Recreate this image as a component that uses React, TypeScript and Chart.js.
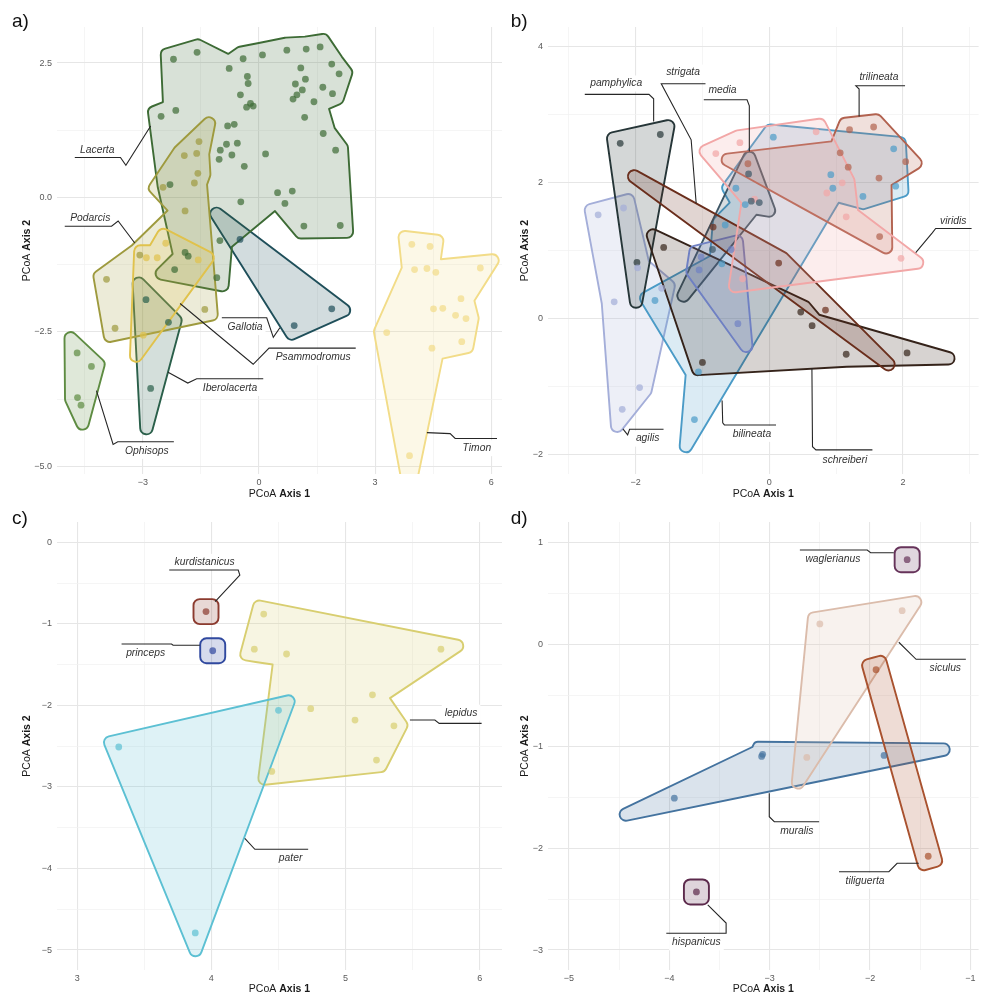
import { useEffect, useRef } from 'react';
import { Chart, registerables } from 'chart.js';

Chart.register(...registerables);

type Pt = [number, number];

const FONT = "'Liberation Sans', Arial, Helvetica, sans-serif";

// ---------- a) genera ----------
const A_X_TICKS = [-3, 0, 3, 6];
const A_X_MINOR = [-4.5, -1.5, 1.5, 4.5];
const A_Y_TICKS = [-5, -2.5, 0, 2.5];
const A_Y_MINOR = [-3.75, -1.25, 1.25];

const A_GALLOTIA_X = [-0.49, 0.91, 1.88];
const A_GALLOTIA_Y = [-0.78, -2.38, -2.07];
const A_IBEROLACERTA_X = [-2.92, -2.34, -2.8];
const A_IBEROLACERTA_Y = [-1.9, -2.32, -3.55];
const A_LACERTA_X = [
  -2.21, -1.6, -0.77, -0.41, 0.09, 0.72, 1.22, 1.58, 1.88, 2.07, 1.08, 1.2, 0.94, 1.12, 0.98, 0.88,
  1.65, 1.9, 1.42, 1.18, -0.3, -0.28, -0.48, -0.32, -0.22, -0.15, -2.53, -2.15, -0.81, -0.64, -0.84,
  -0.56, -1.0, -0.7, -1.03, -0.38, 0.17, 1.66, 1.98, 0.48, 0.86, 0.67, -0.47, 1.16, 2.1, -2.3,
  -1.91, -1.83, -2.18, -1.09, -1.01,
];
const A_LACERTA_Y = [
  2.57, 2.7, 2.4, 2.58, 2.65, 2.74, 2.76, 2.8, 2.48, 2.3, 2.41, 2.2, 2.11, 2.0, 1.91, 1.83, 2.05,
  1.93, 1.78, 1.49, 2.25, 2.12, 1.91, 1.68, 1.75, 1.7, 1.51, 1.62, 1.33, 1.36, 0.99, 1.01, 0.88,
  0.79, 0.71, 0.58, 0.81, 1.19, 0.88, 0.09, 0.12, -0.11, -0.08, -0.53, -0.52, 0.24, -1.02,
  -1.09, -1.34, -1.49, -0.8,
];
const A_OPHISOPS_X = [-4.7, -4.33, -4.69, -4.6];
const A_OPHISOPS_Y = [-2.89, -3.14, -3.72, -3.86];
const A_PODARCIS_X = [-1.55, -1.61, -1.93, -1.58, -1.67, -2.48, -1.91, -3.08, -3.94, -3.72, -1.4];
const A_PODARCIS_Y = [1.04, 0.82, 0.78, 0.45, 0.27, 0.19, -0.25, -1.07, -1.52, -2.43, -2.08];
const A_PSAMMODROMUS_X = [-2.91, -2.63, -2.41, -1.57, -2.99];
const A_PSAMMODROMUS_Y = [-1.12, -1.12, -0.85, -1.16, -2.56];
const A_TIMON_X = [3.95, 4.42, 4.02, 4.34, 4.57, 5.72, 5.22, 4.51, 4.75, 5.08, 5.35, 3.3, 5.24, 4.47, 3.89];
const A_TIMON_Y = [-0.87, -0.91, -1.34, -1.32, -1.39, -1.31, -1.88, -2.07, -2.06, -2.19, -2.25, -2.51, -2.68, -2.8, -4.8];

// ---------- b) Lacerta ----------
const B_X_TICKS = [-2, 0, 2];
const B_X_MINOR = [-3, -1, 1, 3];
const B_Y_TICKS = [-2, 0, 2, 4];
const B_Y_MINOR = [-1, 1, 3];

const B_AGILIS_X = [-2.56, -2.18, -1.97, -2.32, -1.61, -1.94, -2.2];
const B_AGILIS_Y = [1.53, 1.63, 0.75, 0.25, 0.45, -1.01, -1.33];
const B_BILINEATA_X = [0.06, 1.86, 0.92, 0.95, 1.4, 1.89, -0.5, -0.36, -0.66, -0.71, -1.71, -1.06, -1.12];
const B_BILINEATA_Y = [2.67, 2.5, 2.12, 1.92, 1.8, 1.95, 1.92, 1.68, 1.38, 0.81, 0.27, -0.78, -1.48];
const B_MEDIA_X = [-0.31, -0.27, -0.15, -0.85];
const B_MEDIA_Y = [2.13, 1.73, 1.71, 1.02];
const B_PAMPHYLICA_X = [-2.23, -1.63, -1.98];
const B_PAMPHYLICA_Y = [2.58, 2.71, 0.83];
const B_SCHREIBERI_X = [-1.58, -1.0, 0.47, 0.64, 1.15, 2.06];
const B_SCHREIBERI_Y = [1.05, -0.64, 0.1, -0.1, -0.52, -0.5];
const B_SP_X = [-1.02, -0.57, -1.05, -0.47];
const B_SP_Y = [0.91, 1.02, 0.72, -0.07];
const B_STRIGATA_X = [-0.84, 0.14, 0.84];
const B_STRIGATA_Y = [1.35, 0.82, 0.13];
const B_TRILINEATA_X = [-0.32, 1.2, 1.56, 1.06, 1.18, 2.04, 1.64, 1.65];
const B_TRILINEATA_Y = [2.28, 2.78, 2.82, 2.44, 2.23, 2.31, 2.07, 1.21];
const B_VIRIDIS_X = [-0.8, -0.44, 0.7, 1.09, 0.86, 1.15, 1.97, -0.4, -0.22];
const B_VIRIDIS_Y = [2.43, 2.59, 2.75, 2.0, 1.85, 1.5, 0.89, 0.59, 1.76];

// ---------- c) Timon ----------
const C_X_TICKS = [3, 4, 5, 6];
const C_X_MINOR = [3.5, 4.5, 5.5];
const C_Y_TICKS = [-5, -4, -3, -2, -1, 0];
const C_Y_MINOR = [-4.5, -3.5, -2.5, -1.5, -0.5];

const C_KURDISTANICUS_X = [3.96];
const C_KURDISTANICUS_Y = [-0.85];
const C_LEPIDUS_X = [4.39, 4.32, 4.56, 5.71, 4.74, 5.2, 5.07, 5.36, 5.23, 4.45];
const C_LEPIDUS_Y = [-0.88, -1.31, -1.37, -1.31, -2.04, -1.87, -2.18, -2.25, -2.67, -2.81];
const C_PATER_X = [4.5, 3.31, 3.88];
const C_PATER_Y = [-2.06, -2.51, -4.79];
const C_PRINCEPS_X = [4.01];
const C_PRINCEPS_Y = [-1.33];

// ---------- d) Podarcis ----------
const D_X_TICKS = [-5, -4, -3, -2, -1];
const D_X_MINOR = [-4.5, -3.5, -2.5, -1.5];
const D_Y_TICKS = [-3, -2, -1, 0, 1];
const D_Y_MINOR = [-2.5, -1.5, -0.5, 0.5];

const D_HISPANICUS_X = [-3.73];
const D_HISPANICUS_Y = [-2.43];
const D_MURALIS_X = [-3.95, -3.07, -3.08, -1.86];
const D_MURALIS_Y = [-1.51, -1.08, -1.1, -1.09];
const D_SICULUS_X = [-2.5, -1.68, -2.63];
const D_SICULUS_Y = [0.2, 0.33, -1.11];
const D_TILIGUERTA_X = [-1.94, -1.42];
const D_TILIGUERTA_Y = [-0.25, -2.08];
const D_WAGLERIANUS_X = [-1.63];
const D_WAGLERIANUS_Y = [0.83];

interface Group { name: string; x: number[]; y: number[]; color: string }
interface Label { text: string; at: Pt; path: Pt[] }
interface PanelSpec {
  tag: string;
  left: number; top: number; w: number; h: number;
  plot: { l: number; t: number; r: number; b: number };
  xRange: Pt; yRange: Pt;
  xTicks: number[]; xMinor: number[]; yTicks: number[]; yMinor: number[];
  yDigits: number;
  groups: Group[];
  labels: Label[];
  xTitleY: number; yTitleX: number; tagX: number; tagY: number;
}

const PANELS: PanelSpec[] = [
  {
    tag: 'a)', left: 0, top: 0, w: 506, h: 500,
    plot: { l: 57, t: 27, r: 502, b: 474 },
    xRange: [-5.22, 6.28], yRange: [-5.14, 3.17],
    xTicks: A_X_TICKS, xMinor: A_X_MINOR, yTicks: A_Y_TICKS, yMinor: A_Y_MINOR, yDigits: 1,
    groups: [
      { name: 'Gallotia', x: A_GALLOTIA_X, y: A_GALLOTIA_Y, color: '#1f4f5a' },
      { name: 'Iberolacerta', x: A_IBEROLACERTA_X, y: A_IBEROLACERTA_Y, color: '#2a5f4a' },
      { name: 'Lacerta', x: A_LACERTA_X, y: A_LACERTA_Y, color: '#3d6b35' },
      { name: 'Ophisops', x: A_OPHISOPS_X, y: A_OPHISOPS_Y, color: '#5e8c42' },
      { name: 'Podarcis', x: A_PODARCIS_X, y: A_PODARCIS_Y, color: '#9e9a3e' },
      { name: 'Psammodromus', x: A_PSAMMODROMUS_X, y: A_PSAMMODROMUS_Y, color: '#e0c24c' },
      { name: 'Timon', x: A_TIMON_X, y: A_TIMON_Y, color: '#f2dc88' },
    ],
    labels: [
      { text: 'Lacerta', at: [-4.18, 0.88], path: [[-4.76, 0.745], [-3.58, 0.745], [-3.44, 0.6], [-2.8, 1.33]] },
      { text: 'Podarcis', at: [-4.36, -0.38], path: [[-5.02, -0.534], [-3.81, -0.534], [-3.64, -0.436], [-3.21, -0.845]] },
      { text: 'Gallotia', at: [-0.36, -2.41], path: [[-0.96, -2.235], [0.2, -2.235], [0.37, -2.6], [0.54, -2.42]] },
      { text: 'Psammodromus', at: [1.4, -2.97], path: [[2.5, -2.8], [0.26, -2.8], [-0.15, -3.1], [-2.04, -1.97]] },
      { text: 'Iberolacerta', at: [-0.75, -3.54], path: [[0.11, -3.37], [-1.61, -3.37], [-1.84, -3.45], [-2.35, -3.25]] },
      { text: 'Ophisops', at: [-2.9, -4.71], path: [[-2.2, -4.54], [-3.65, -4.54], [-3.77, -4.59], [-4.2, -3.59]] },
      { text: 'Timon', at: [5.63, -4.66], path: [[6.15, -4.48], [5.07, -4.48], [4.94, -4.39], [4.34, -4.37]] },
    ],
    xTitleY: 494, yTitleX: 27, tagX: 12, tagY: 26.5,
  },
  {
    tag: 'b)', left: 490, top: 0, w: 492, h: 500,
    plot: { l: 58, t: 27, r: 490, b: 474 },
    xRange: [-3.31, 3.13], yRange: [-2.28, 4.29],
    xTicks: B_X_TICKS, xMinor: B_X_MINOR, yTicks: B_Y_TICKS, yMinor: B_Y_MINOR, yDigits: 0,
    groups: [
      { name: 'agilis', x: B_AGILIS_X, y: B_AGILIS_Y, color: '#a4aed9' },
      { name: 'bilineata', x: B_BILINEATA_X, y: B_BILINEATA_Y, color: '#4b9bc7' },
      { name: 'media', x: B_MEDIA_X, y: B_MEDIA_Y, color: '#3c5565' },
      { name: 'pamphylica', x: B_PAMPHYLICA_X, y: B_PAMPHYLICA_Y, color: '#263638' },
      { name: 'schreiberi', x: B_SCHREIBERI_X, y: B_SCHREIBERI_Y, color: '#35231a' },
      { name: 'sp.', x: B_SP_X, y: B_SP_Y, color: '#6f80c3' },
      { name: 'strigata', x: B_STRIGATA_X, y: B_STRIGATA_Y, color: '#6a2e1c' },
      { name: 'trilineata', x: B_TRILINEATA_X, y: B_TRILINEATA_Y, color: '#b2624f' },
      { name: 'viridis', x: B_VIRIDIS_X, y: B_VIRIDIS_Y, color: '#f2a7a7' },
    ],
    labels: [
      { text: 'pamphylica', at: [-2.29, 3.46], path: [[-2.76, 3.3], [-1.8, 3.3], [-1.73, 3.235], [-1.73, 2.9]] },
      { text: 'strigata', at: [-1.29, 3.62], path: [[-0.945, 3.456], [-1.616, 3.456], [-1.169, 2.632], [-1.094, 1.7]] },
      { text: 'media', at: [-0.7, 3.36], path: [[-0.98, 3.221], [-0.333, 3.221], [-0.299, 3.132], [-0.299, 2.46]] },
      { text: 'trilineata', at: [1.64, 3.55], path: [[2.03, 3.426], [1.294, 3.426], [1.343, 3.378], [1.343, 2.975]] },
      { text: 'viridis', at: [2.75, 1.44], path: [[3.025, 1.328], [2.488, 1.328], [2.437, 1.265], [2.19, 0.975]] },
      { text: 'agilis', at: [-1.82, -1.76], path: [[-1.582, -1.622], [-2.09, -1.622], [-2.119, -1.706], [-2.19, -1.618]] },
      { text: 'bilineata', at: [-0.26, -1.69], path: [[0.1, -1.559], [-0.672, -1.559], [-0.697, -1.529], [-0.706, -1.201]] },
      { text: 'schreiberi', at: [1.13, -2.07], path: [[1.542, -1.926], [0.697, -1.926], [0.646, -1.878], [0.637, -0.725]] },
    ],
    xTitleY: 494, yTitleX: 35, tagX: 20.7, tagY: 26.5,
  },
  {
    tag: 'c)', left: 0, top: 500, w: 506, h: 497,
    plot: { l: 57, t: 22, r: 502, b: 470 },
    xRange: [2.85, 6.165], yRange: [-5.245, 0.249],
    xTicks: C_X_TICKS, xMinor: C_X_MINOR, yTicks: C_Y_TICKS, yMinor: C_Y_MINOR, yDigits: 0,
    groups: [
      { name: 'kurdistanicus', x: C_KURDISTANICUS_X, y: C_KURDISTANICUS_Y, color: '#8c3b2f' },
      { name: 'lepidus', x: C_LEPIDUS_X, y: C_LEPIDUS_Y, color: '#d8ce70' },
      { name: 'pater', x: C_PATER_X, y: C_PATER_Y, color: '#5cc0d3' },
      { name: 'princeps', x: C_PRINCEPS_X, y: C_PRINCEPS_Y, color: '#30499f' },
    ],
    labels: [
      { text: 'kurdistanicus', at: [3.95, -0.24], path: [[3.686, -0.34], [4.2, -0.34], [4.212, -0.401], [4.028, -0.728]] },
      { text: 'princeps', at: [3.51, -1.36], path: [[3.331, -1.247], [3.703, -1.247], [3.715, -1.263], [3.914, -1.263]] },
      { text: 'lepidus', at: [5.86, -2.09], path: [[6.013, -2.22], [5.697, -2.22], [5.665, -2.179], [5.479, -2.179]] },
      { text: 'pater', at: [4.59, -3.875], path: [[4.721, -3.765], [4.324, -3.765], [4.249, -3.63]] },
    ],
    xTitleY: 489, yTitleX: 27, tagX: 12, tagY: 24,
  },
  {
    tag: 'd)', left: 490, top: 500, w: 492, h: 497,
    plot: { l: 58, t: 22, r: 490, b: 470 },
    xRange: [-5.209, -0.918], yRange: [-3.196, 1.2],
    xTicks: D_X_TICKS, xMinor: D_X_MINOR, yTicks: D_Y_TICKS, yMinor: D_Y_MINOR, yDigits: 0,
    groups: [
      { name: 'hispanicus', x: D_HISPANICUS_X, y: D_HISPANICUS_Y, color: '#5c2a4c' },
      { name: 'muralis', x: D_MURALIS_X, y: D_MURALIS_Y, color: '#44739f' },
      { name: 'siculus', x: D_SICULUS_X, y: D_SICULUS_Y, color: '#dbbcab' },
      { name: 'tiliguerta', x: D_TILIGUERTA_X, y: D_TILIGUERTA_Y, color: '#a9522f' },
      { name: 'waglerianus', x: D_WAGLERIANUS_X, y: D_WAGLERIANUS_Y, color: '#66335a' },
    ],
    labels: [
      { text: 'waglerianus', at: [-2.37, 0.834], path: [[-2.699, 0.925], [-2.028, 0.925], [-1.994, 0.899], [-1.763, 0.899]] },
      { text: 'siculus', at: [-1.25, -0.236], path: [[-1.045, -0.147], [-1.541, -0.147], [-1.713, 0.02]] },
      { text: 'muralis', at: [-2.73, -1.83], path: [[-2.507, -1.741], [-2.954, -1.741], [-3.004, -1.692], [-3.004, -1.462]] },
      { text: 'tiliguerta', at: [-2.05, -2.32], path: [[-2.309, -2.232], [-1.812, -2.232], [-1.73, -2.149], [-1.514, -2.149]] },
      { text: 'hispanicus', at: [-3.73, -2.925], path: [[-4.03, -2.836], [-3.434, -2.836], [-3.434, -2.735], [-3.617, -2.558]] },
    ],
    xTitleY: 489, yTitleX: 35, tagX: 20.7, tagY: 24,
  },
];

// hull expansion and corner radius, in pixels
const EXPAND = 12.5;
const RADIUS = 6.25;

function rgba(hex: string, a: number) {
  const n = parseInt(hex.slice(1), 16);
  return `rgba(${(n >> 16) & 255},${(n >> 8) & 255},${n & 255},${a})`;
}

// ---------- concave hull (concaveman-style digging of a convex hull) ----------
function cross3(o: Pt, a: Pt, b: Pt) {
  return (a[0] - o[0]) * (b[1] - o[1]) - (a[1] - o[1]) * (b[0] - o[0]);
}
function convexHullIdx(pts: Pt[]): number[] {
  const idx = pts.map((_, i) => i).sort((i, j) => pts[i][0] - pts[j][0] || pts[i][1] - pts[j][1]);
  const lower: number[] = [];
  for (const i of idx) {
    while (lower.length >= 2 && cross3(pts[lower[lower.length - 2]], pts[lower[lower.length - 1]], pts[i]) <= 0) lower.pop();
    lower.push(i);
  }
  const upper: number[] = [];
  for (let k = idx.length - 1; k >= 0; k--) {
    const i = idx[k];
    while (upper.length >= 2 && cross3(pts[upper[upper.length - 2]], pts[upper[upper.length - 1]], pts[i]) <= 0) upper.pop();
    upper.push(i);
  }
  lower.pop();
  upper.pop();
  return lower.concat(upper);
}
function sqDist(a: Pt, b: Pt) {
  const dx = a[0] - b[0], dy = a[1] - b[1];
  return dx * dx + dy * dy;
}
function sqSegDist(p: Pt, a: Pt, b: Pt) {
  let x = a[0], y = a[1];
  let dx = b[0] - x, dy = b[1] - y;
  if (dx !== 0 || dy !== 0) {
    const t = ((p[0] - x) * dx + (p[1] - y) * dy) / (dx * dx + dy * dy);
    if (t > 1) { x = b[0]; y = b[1]; } else if (t > 0) { x += dx * t; y += dy * t; }
  }
  dx = p[0] - x; dy = p[1] - y;
  return dx * dx + dy * dy;
}
function orient(p: Pt, q: Pt, r: Pt) {
  return (q[1] - p[1]) * (r[0] - q[0]) - (q[0] - p[0]) * (r[1] - q[1]);
}
function concaveHullIdx(pts: Pt[], concavity = 2): number[] {
  const hull = convexHullIdx(pts);
  if (pts.length < 4 || hull.length < 3) return hull;
  const next = new Map<number, number>();
  const prev = new Map<number, number>();
  hull.forEach((h, k) => {
    next.set(h, hull[(k + 1) % hull.length]);
    prev.set(h, hull[(k - 1 + hull.length) % hull.length]);
  });
  const used = new Set(hull);
  const crosses = (p1: number, q1: number, p2: number, q2: number) =>
    p1 !== q2 && q1 !== p2 &&
    (orient(pts[p1], pts[q1], pts[p2]) > 0) !== (orient(pts[p1], pts[q1], pts[q2]) > 0) &&
    (orient(pts[p2], pts[q2], pts[p1]) > 0) !== (orient(pts[p2], pts[q2], pts[q1]) > 0);
  const clear = (a: number, b: number) => {
    for (const [s, t] of next) if (crosses(s, t, a, b)) return false;
    return true;
  };
  const queue = hull.slice();
  const sqC = concavity * concavity;
  let guard = 0;
  while (queue.length && guard++ < 20000) {
    const a = queue.shift()!;
    const b = next.get(a)!;
    const maxSq = sqDist(pts[a], pts[b]) / sqC;
    const pa = prev.get(a)!, nb = next.get(b)!;
    const cands: [number, number][] = [];
    pts.forEach((p, i) => {
      if (used.has(i)) return;
      const d = sqSegDist(p, pts[a], pts[b]);
      if (d <= maxSq) cands.push([d, i]);
    });
    cands.sort((u, v) => u[0] - v[0]);
    let pick = -1;
    for (const [d, i] of cands) {
      if (d < sqSegDist(pts[i], pts[pa], pts[a]) && d < sqSegDist(pts[i], pts[b], pts[nb]) && clear(a, i) && clear(b, i)) {
        pick = i;
        break;
      }
    }
    if (pick >= 0 && Math.min(sqDist(pts[pick], pts[a]), sqDist(pts[pick], pts[b])) <= maxSq) {
      next.set(a, pick); prev.set(pick, a);
      next.set(pick, b); prev.set(b, pick);
      used.add(pick);
      queue.push(a, pick);
    }
  }
  const out = [hull[0]];
  let c = next.get(hull[0])!;
  while (c !== hull[0] && out.length <= pts.length) { out.push(c); c = next.get(c)!; }
  return out;
}

// ---------- mitred outward offset with collapsed edges removed ----------
interface Outline { V: Pt[]; convex: boolean[] }
function offsetPolygon(poly: Pt[], E: number): Outline {
  const P = poly.slice();
  let A = 0;
  for (let i = 0; i < P.length; i++) {
    const a = P[i], b = P[(i + 1) % P.length];
    A += a[0] * b[1] - b[0] * a[1];
  }
  if (A < 0) P.reverse();
  type Line = { o: Pt; d: Pt };
  let lines: Line[] = [];
  for (let i = 0; i < P.length; i++) {
    const a = P[i], b = P[(i + 1) % P.length];
    const dx = b[0] - a[0], dy = b[1] - a[1];
    const L = Math.hypot(dx, dy);
    if (L < 1e-9) continue;
    const d: Pt = [dx / L, dy / L];
    lines.push({ o: [a[0] + d[1] * E, a[1] - d[0] * E], d });
  }
  const meet = (l1: Line, l2: Line): Pt => {
    const c = l1.d[0] * l2.d[1] - l1.d[1] * l2.d[0];
    if (Math.abs(c) < 1e-9) return l2.o;
    const wx = l2.o[0] - l1.o[0], wy = l2.o[1] - l1.o[1];
    const s = (wx * l2.d[1] - wy * l2.d[0]) / c;
    return [l1.o[0] + s * l1.d[0], l1.o[1] + s * l1.d[1]];
  };
  for (let guard = 0; guard < 200 && lines.length > 3; guard++) {
    const m = lines.length;
    const V = lines.map((l, i) => meet(lines[(i - 1 + m) % m], l));
    let bad = -1;
    for (let i = 0; i < m; i++) {
      const a = V[i], b = V[(i + 1) % m];
      if ((b[0] - a[0]) * lines[i].d[0] + (b[1] - a[1]) * lines[i].d[1] < 0) { bad = i; break; }
    }
    if (bad < 0) break;
    lines = lines.filter((_, i) => i !== bad);
  }
  const m = lines.length;
  const V = lines.map((l, i) => meet(lines[(i - 1 + m) % m], l));
  const convex = lines.map((l, i) => {
    const p = lines[(i - 1 + m) % m].d;
    return p[0] * l.d[1] - p[1] * l.d[0] > 0;
  });
  return { V, convex };
}

function markOutline(px: Pt[], area: { left: number; top: number; width: number; height: number }): Outline {
  if (px.length === 1) {
    const [x, y] = px[0];
    const E = EXPAND;
    return { V: [[x - E, y - E], [x + E, y - E], [x + E, y + E], [x - E, y + E]], convex: [true, true, true, true] };
  }
  if (px.length === 2) {
    const [a, b] = px;
    const L = Math.hypot(b[0] - a[0], b[1] - a[1]) || 1;
    const u: Pt = [(b[0] - a[0]) / L, (b[1] - a[1]) / L];
    const v: Pt = [-u[1], u[0]];
    const E = EXPAND;
    const c = (p: Pt, su: number, sv: number): Pt => [p[0] + E * (su * u[0] + sv * v[0]), p[1] + E * (su * u[1] + sv * v[1])];
    return { V: [c(a, -1, -1), c(b, 1, -1), c(b, 1, 1), c(a, -1, 1)], convex: [true, true, true, true] };
  }
  const npc: Pt[] = px.map(([x, y]) => [(x - area.left) / area.width, (y - area.top) / area.height]);
  const idx = concaveHullIdx(npc, 2);
  return offsetPolygon(idx.map((i) => px[i]), EXPAND);
}

function traceRounded(ctx: CanvasRenderingContext2D, o: Outline, R: number) {
  const { V, convex } = o;
  const m = V.length;
  ctx.moveTo((V[m - 1][0] + V[0][0]) / 2, (V[m - 1][1] + V[0][1]) / 2);
  for (let i = 0; i < m; i++) {
    const p = V[(i - 1 + m) % m], c = V[i], n = V[(i + 1) % m];
    if (!convex[i]) { ctx.lineTo(c[0], c[1]); continue; }
    const l1 = Math.hypot(c[0] - p[0], c[1] - p[1]);
    const l2 = Math.hypot(n[0] - c[0], n[1] - c[1]);
    if (l1 < 1e-6 || l2 < 1e-6) { ctx.lineTo(c[0], c[1]); continue; }
    const cosPhi = Math.max(-1, Math.min(1, ((p[0] - c[0]) * (n[0] - c[0]) + (p[1] - c[1]) * (n[1] - c[1])) / (l1 * l2)));
    const tanHalf = Math.tan(Math.acos(cosPhi) / 2);
    const rr = Math.min(R, 0.5 * Math.min(l1, l2) * tanHalf);
    if (rr < 0.05) ctx.lineTo(c[0], c[1]);
    else ctx.arcTo(c[0], c[1], n[0], n[1], rr);
  }
  ctx.closePath();
}

function drawMixedTitle(ctx: CanvasRenderingContext2D, plain: string, bold: string, cx: number, cy: number) {
  const normalFont = `10.5px ${FONT}`;
  const boldFont = `bold 10.5px ${FONT}`;
  ctx.font = normalFont;
  const wa = ctx.measureText(plain).width;
  ctx.font = boldFont;
  const wb = ctx.measureText(bold).width;
  const x0 = cx - (wa + wb) / 2;
  ctx.textAlign = 'left';
  ctx.textBaseline = 'middle';
  ctx.fillStyle = '#1a1a1a';
  ctx.font = normalFont;
  ctx.fillText(plain, x0, cy);
  ctx.font = boldFont;
  ctx.fillText(bold, x0 + wa, cy);
}

function fmtTick(v: number, digits: number) {
  return v.toFixed(digits).replace('-', '\u2212');
}

function makeChart(canvas: HTMLCanvasElement, spec: PanelSpec) {
  const hulls = {
    id: 'hulls',
    beforeDatasetsDraw(chart: any) {
      const { ctx, chartArea: ca, scales } = chart;
      ctx.save();
      ctx.beginPath();
      ctx.rect(ca.left, ca.top, ca.right - ca.left, ca.bottom - ca.top);
      ctx.clip();
      for (const g of spec.groups) {
        const px: Pt[] = g.x.map((v, i) => [scales.x.getPixelForValue(v), scales.y.getPixelForValue(g.y[i])]);
        const outline = markOutline(px, { left: ca.left, top: ca.top, width: ca.right - ca.left, height: ca.bottom - ca.top });
        ctx.beginPath();
        traceRounded(ctx, outline, RADIUS);
        ctx.fillStyle = rgba(g.color, 0.2);
        ctx.fill();
        ctx.lineJoin = 'round';
        ctx.lineWidth = 1.9;
        ctx.strokeStyle = g.color;
        ctx.stroke();
      }
      ctx.restore();
    },
  };

  const labels = {
    id: 'groupLabels',
    afterDatasetsDraw(chart: any) {
      const { ctx, chartArea: ca, scales } = chart;
      ctx.save();
      ctx.beginPath();
      ctx.rect(ca.left, ca.top, ca.right - ca.left, ca.bottom - ca.top);
      ctx.clip();
      ctx.font = `italic 10.3px ${FONT}`;
      for (const lb of spec.labels) {
        const tx = scales.x.getPixelForValue(lb.at[0]);
        const ty = scales.y.getPixelForValue(lb.at[1]);
        const w = ctx.measureText(lb.text).width;
        ctx.fillStyle = '#ffffff';
        ctx.fillRect(tx - w / 2 - 3, ty - 8, w + 6, 16);
        ctx.fillStyle = '#333333';
        ctx.textAlign = 'center';
        ctx.textBaseline = 'middle';
        ctx.fillText(lb.text, tx, ty);
        ctx.beginPath();
        lb.path.forEach(([a, b], i) => {
          const x = scales.x.getPixelForValue(a);
          const y = scales.y.getPixelForValue(b);
          if (i === 0) ctx.moveTo(x, y);
          else ctx.lineTo(x, y);
        });
        ctx.strokeStyle = '#262626';
        ctx.lineWidth = 1.1;
        ctx.lineJoin = 'miter';
        ctx.stroke();
      }
      ctx.restore();
    },
  };

  const decor = {
    id: 'decor',
    afterDraw(chart: any) {
      const { ctx, chartArea: ca } = chart;
      ctx.save();
      drawMixedTitle(ctx, 'PCoA ', 'Axis 1', (ca.left + ca.right) / 2, spec.xTitleY);
      ctx.translate(spec.yTitleX, (ca.top + ca.bottom) / 2);
      ctx.rotate(-Math.PI / 2);
      drawMixedTitle(ctx, 'PCoA ', 'Axis 2', 0, 0);
      ctx.restore();
      ctx.save();
      ctx.font = `19px ${FONT}`;
      ctx.fillStyle = '#111111';
      ctx.textAlign = 'left';
      ctx.textBaseline = 'alphabetic';
      ctx.fillText(spec.tag, spec.tagX, spec.tagY);
      ctx.restore();
    },
  };

  const axis = (majors: number[], minors: number[], range: Pt, digits: number, isX: boolean) => ({
    type: 'linear' as const,
    min: range[0],
    max: range[1],
    afterBuildTicks: (s: any) => {
      s.ticks = [...majors, ...minors].sort((a, b) => a - b).map((value) => ({ value }));
    },
    afterFit: (s: any) => {
      if (isX) s.height = spec.h - spec.plot.b;
      else s.width = spec.plot.l;
      s.paddingLeft = 0; s.paddingRight = 0; s.paddingTop = 0; s.paddingBottom = 0;
    },
    border: { display: false },
    grid: {
      drawTicks: false,
      color: (c: any) => (c.tick && majors.includes(c.tick.value) ? '#e6e6e6' : '#f1f1f1'),
      lineWidth: (c: any) => (c.tick && majors.includes(c.tick.value) ? 1.1 : 0.7),
    },
    ticks: {
      autoSkip: false,
      maxRotation: 0,
      padding: isX ? 3 : 5,
      color: '#5a5a5a',
      font: { size: 9, family: FONT },
      callback: (v: any) => (majors.includes(Number(v)) ? fmtTick(Number(v), digits) : ''),
    },
  });

  return new Chart(canvas, {
    type: 'scatter',
    data: {
      datasets: spec.groups.map((g) => ({
        label: g.name,
        data: g.x.map((x, i) => ({ x, y: g.y[i] })),
        backgroundColor: rgba(g.color, 0.7),
        borderWidth: 0,
        pointRadius: 3.4,
        pointHoverRadius: 3.4,
      })),
    },
    options: {
      animation: false,
      responsive: false,
      devicePixelRatio: 1,
      events: [],
      layout: { padding: { left: 0, top: spec.plot.t, right: spec.w - spec.plot.r, bottom: 0 } },
      plugins: { legend: { display: false }, tooltip: { enabled: false } },
      scales: {
        x: axis(spec.xTicks, spec.xMinor, spec.xRange, 0, true),
        y: axis(spec.yTicks, spec.yMinor, spec.yRange, spec.yDigits, false),
      },
    } as any,
    plugins: [hulls, labels, decor],
  });
}

function Panel({ spec }: { spec: PanelSpec }) {
  const ref = useRef<HTMLCanvasElement>(null);
  useEffect(() => {
    if (!ref.current) return;
    const chart = makeChart(ref.current, spec);
    return () => chart.destroy();
  }, [spec]);
  return (
    <canvas
      ref={ref}
      width={spec.w}
      height={spec.h}
      style={{ position: 'absolute', left: spec.left, top: spec.top, width: spec.w, height: spec.h }}
    />
  );
}

export default function App() {
  return (
    <div style={{ position: 'absolute', left: 0, top: 0, width: 982, height: 997, background: '#ffffff', overflow: 'hidden' }}>
      {PANELS.map((p) => (
        <Panel key={p.tag} spec={p} />
      ))}
    </div>
  );
}
